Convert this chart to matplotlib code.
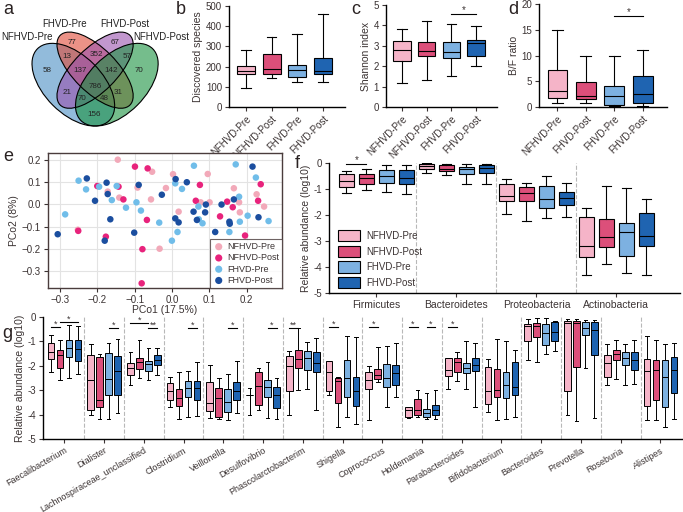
import matplotlib
matplotlib.use('Agg')
import matplotlib.pyplot as plt
from matplotlib.patches import Ellipse, Patch

plt.rcParams['font.family'] = ['Liberation Sans', 'DejaVu Sans']
TXT = '#3b3333'
plt.rcParams['text.color'] = TXT
plt.rcParams['axes.labelcolor'] = TXT
plt.rcParams['xtick.color'] = TXT
plt.rcParams['ytick.color'] = TXT

# ---------------- data ----------------
groups = ['NFHVD-Pre', 'NFHVD-Post', 'FHVD-Pre', 'FHVD-Post']
box_colors = ['#f5b4c8', '#dc4f7a', '#7db1e1', '#1f64b1']
pcoa_colors = ['#f2a9b9', '#e8237c', '#70bde9', '#1b4e9f']

venn_sets = ['NFHVD-Pre', 'FHVD-Pre', 'FHVD-Post', 'NFHVD-Post']
venn_counts = [58, 77, 67, 70, 13, 352, 57, 137, 786, 142, 21, 70, 48, 31, 156]

# five-number summaries: whislo, q1, median, q3, whishi
species_stats = [[95, 165, 180, 205, 280], [145, 165, 190, 262, 345],
                 [125, 150, 185, 210, 362], [125, 165, 180, 242, 460]]
shannon_stats = [[1.2, 2.25, 2.8, 3.25, 3.8], [1.3, 2.5, 2.75, 3.2, 4.2],
                 [1.5, 2.4, 2.7, 3.2, 4.05], [2.0, 2.5, 3.15, 3.3, 3.95]]
bf_stats = [[0.8, 1.8, 3.2, 7.1, 15], [0.7, 1.5, 2.1, 4.9, 9.9],
            [0.2, 0.4, 2.2, 4.0, 9.9], [0.1, 0.8, 2.5, 6.0, 11]]
bf_labels = ['NFHVD-Pre', 'FHVD-Post', 'FHVD-Pre', 'FHVD-Post']

pcoa_nfhvd_pre = [(-0.172, 0.057), (-0.141, 0.03), (-0.092, 0.075), (-0.016, 0.073), (-0.056, 0.022),
                  (-0.252, -0.114), (-0.033, -0.199), (0.018, -0.033), (0.077, 0.009), (0.101, 0.009),
                  (0.166, 0.072), (0.096, 0.136), (0.18, 0.009), (0.182, -0.036), (0.227, 0.045),
                  (0.247, -0.01), (-0.145, 0.2), (-0.053, 0.146), (0.003, 0.135)]
pcoa_nfhvd_post = [(-0.2, 0.082), (-0.143, 0.079), (-0.13, 0.022), (-0.067, -0.07), (-0.251, -0.119),
                   (-0.177, -0.145), (-0.079, -0.201), (-0.081, -0.354), (0.075, 0.087), (0.064, 0.016),
                   (0.129, -0.054), (0.148, 0.012), (0.163, -0.013), (0.196, -0.14), (0.238, 0.09),
                   (0.231, 0.016), (-0.099, 0.169), (-0.065, 0.161)]
pcoa_fhvd_pre = [(-0.25, 0.106), (-0.23, 0.067), (-0.195, 0.079), (-0.148, 0.082), (-0.161, 0.019),
                 (-0.123, -0.015), (-0.095, 0.009), (-0.083, -0.028), (-0.286, -0.045), (-0.034, -0.082),
                 (0.009, 0.094), (0.027, 0.069), (0.0, -0.163), (0.015, -0.124), (0.071, -0.01),
                 (0.082, -0.085), (0.154, -0.124), (0.18, 0.034), (0.182, -0.078), (0.203, -0.051),
                 (0.225, 0.12), (0.259, -0.075), (0.059, 0.173), (0.171, 0.179), (0.072, -0.067)]
pcoa_fhvd_post = [(-0.228, 0.116), (-0.175, 0.097), (-0.172, 0.046), (-0.206, 0.016), (-0.089, 0.087),
                  (-0.027, 0.043), (-0.165, -0.067), (-0.306, -0.134), (-0.18, -0.163), (-0.101, -0.127),
                  (0.01, 0.113), (0.04, 0.099), (0.009, -0.063), (0.018, -0.081), (0.058, -0.033),
                  (0.091, -0.001), (0.089, -0.036), (0.067, -0.07), (0.133, -0.001), (0.166, 0.022),
                  (0.116, -0.124), (0.154, -0.078), (0.155, -0.087), (0.232, -0.058), (0.216, 0.169)]

phyla = ['Firmicutes', 'Bacteroidetes', 'Proteobacteria', 'Actinobacteria']
phylum_stats = [
    [[-1.17, -0.91, -0.68, -0.44, -0.3], [-1.04, -0.79, -0.56, -0.43, -0.24],
     [-1.1, -0.75, -0.51, -0.25, -0.06], [-1.2, -0.82, -0.56, -0.28, -0.06]],
    [[-0.38, -0.24, -0.13, -0.05, 0.0], [-0.47, -0.3, -0.22, -0.09, -0.03],
     [-0.82, -0.44, -0.24, -0.15, -0.03], [-0.82, -0.4, -0.19, -0.09, -0.03]],
    [[-1.95, -1.48, -1.27, -0.82, -0.6], [-2.24, -1.46, -1.14, -0.94, -0.75],
     [-2.11, -1.73, -1.38, -0.89, -0.49], [-2.09, -1.61, -1.35, -1.1, -0.76]],
    [[-4.31, -3.61, -3.2, -2.08, -1.74], [-3.87, -3.23, -2.85, -2.15, -0.9],
     [-4.22, -3.59, -2.66, -2.3, -0.96], [-4.29, -3.19, -2.82, -1.92, -1.38]],
]

genera = ['Faecalibacterium', 'Dialister', 'Lachnospiraceae_unclassified', 'Clostridium',
          'Veillonella', 'Desulfovibrio', 'Phascolarctobacterim', 'Shigella', 'Coprococcus',
          'Holdemania', 'Parabacteroides', 'Bifidobacterium', 'Bacteroides', 'Prevotella',
          'Roseburia', 'Alistipes']
genus_stats = [
    [[-2.27, -1.73, -1.44, -1.07, -0.73], [-2.58, -2.07, -1.55, -1.37, -0.93],
     [-2.51, -1.62, -1.27, -0.93, -0.31], [-2.34, -1.82, -1.3, -0.96, -0.38]],
    [[-4.01, -3.81, -2.6, -1.55, -1.1], [-4.19, -3.67, -3.42, -1.64, -1.51],
     [-4.19, -3.19, -2.55, -1.48, -1.07], [-3.95, -3.19, -2.23, -1.59, -0.9]],
    [[-2.78, -2.37, -2.1, -1.89, -1.45], [-2.51, -2.14, -1.86, -1.68, -0.93],
     [-2.6, -2.23, -1.93, -1.79, -1.27], [-2.37, -1.96, -1.75, -1.55, -1.27]],
    [[-3.67, -3.4, -3.05, -2.71, -2.44], [-4.19, -3.64, -3.33, -2.96, -2.27],
     [-4.11, -3.26, -2.92, -2.64, -2.2], [-4.05, -3.42, -2.89, -2.64, -1.85]],
    [[-4.15, -3.84, -3.51, -2.68, -1.96], [-4.19, -4.11, -3.33, -2.92, -2.48],
     [-4.22, -3.88, -3.47, -2.96, -2.34], [-3.92, -3.4, -3.05, -2.68, -1.82]],
    [[-4.0, -3.2, -3.2, -3.2, -2.92], [-3.81, -3.6, -2.81, -2.27, -2.07],
     [-4.15, -3.26, -2.85, -2.58, -1.86], [-4.19, -3.74, -3.19, -2.88, -2.48]],
    [[-4.01, -3.05, -2.0, -1.59, -1.41], [-2.99, -2.1, -1.73, -1.34, -0.45],
     [-2.96, -2.19, -1.68, -1.41, -1.04], [-3.81, -2.27, -1.89, -1.45, -0.86]],
    [[-3.19, -3.05, -2.27, -1.82, -1.82], [-4.52, -3.51, -2.64, -2.48, -2.44],
     [-4.11, -3.26, -2.51, -1.75, -0.77], [-4.4, -3.64, -3.05, -2.47, -0.82]],
    [[-4.22, -2.96, -2.58, -2.27, -2.0], [-2.68, -2.55, -2.37, -2.14, -1.23],
     [-3.67, -2.88, -2.51, -1.92, -1.18], [-3.29, -2.78, -2.3, -1.96, -1.07]],
    [[-4.15, -4.11, -3.81, -3.67, -3.67], [-4.11, -4.01, -3.81, -3.37, -3.01],
     [-4.19, -4.11, -3.92, -3.78, -3.12], [-4.19, -4.01, -3.81, -3.6, -2.99]],
    [[-2.96, -2.41, -2.16, -1.68, -1.68], [-2.64, -2.27, -1.85, -1.68, -1.45],
     [-2.96, -2.3, -2.1, -1.89, -1.0], [-3.67, -2.23, -1.96, -1.68, -1.07]],
    [[-3.88, -3.56, -3.05, -2.05, -1.73], [-4.22, -3.26, -2.99, -2.14, -0.9],
     [-4.19, -3.33, -2.78, -2.27, -0.97], [-4.11, -3.19, -2.88, -1.86, -1.37]],
    [[-1.78, -0.97, -0.35, -0.28, -0.1], [-1.85, -0.8, -0.38, -0.24, -0.04],
     [-1.52, -1.16, -0.65, -0.28, -0.06], [-1.41, -0.97, -0.61, -0.21, -0.16]],
    [[-4.01, -3.02, -0.25, -0.17, -0.1], [-4.25, -2.05, -0.24, -0.17, -0.1],
     [-2.09, -0.75, -0.45, -0.2, -0.13], [-4.15, -1.54, -0.54, -0.2, -0.13]],
    [[-2.78, -2.46, -1.89, -1.54, -1.09], [-2.54, -1.78, -1.51, -1.37, -0.95],
     [-2.78, -1.95, -1.68, -1.45, -1.12], [-2.74, -2.19, -1.78, -1.45, -0.93]],
    [[-4.22, -3.64, -2.23, -1.72, -0.76], [-4.22, -3.4, -2.19, -1.75, -0.93],
     [-4.49, -3.7, -2.44, -1.78, -1.12], [-4.19, -3.12, -2.16, -1.64, -1.05]],
]
# significance marks: (genus index, box a, box b, y, text)
genus_sig = [(0, 0, 1, -0.42, '*'), (0, 1, 3, -0.2, '*'), (1, 2, 3, -0.45, '*'),
             (2, 0, 2, -0.24, '*'), (2, 2, 3, -0.47, '**'), (3, 2, 3, -0.45, '*'),
             (4, 2, 3, -0.45, '*'), (5, 2, 3, -0.45, '*'), (6, 0, 1, -0.45, '**'),
             (7, 0, 1, -0.42, '*'), (8, 0, 1, -0.42, '*'), (9, 0, 1, -0.42, '*'),
             (9, 2, 3, -0.42, '*'), (10, 0, 1, -0.42, '*')]

# ---------------- helpers ----------------
W, H = 683, 512
fig = plt.figure(figsize=(W / 100, H / 100), dpi=100)


def px_axes(x0, y0, x1, y1):
    return fig.add_axes([x0 / W, 1 - y1 / H, (x1 - x0) / W, (y1 - y0) / H])


def to_stats(rows):
    return [dict(whislo=r[0], q1=r[1], med=r[2], q3=r[3], whishi=r[4]) for r in rows]


def draw_boxes(ax, rows, positions, colors, width, lw=0.8):
    bp = ax.bxp(to_stats(rows), positions=positions, widths=width, patch_artist=True,
                showfliers=False, capwidths=width * 0.55,
                boxprops=dict(linewidth=lw, edgecolor='black'),
                medianprops=dict(color='black', linewidth=lw),
                whiskerprops=dict(color='black', linewidth=lw),
                capprops=dict(color='black', linewidth=lw))
    for p, c in zip(bp['boxes'], colors):
        p.set_facecolor(c)
    return bp


def style_box_axes(ax):
    for s in ['top', 'right']:
        ax.spines[s].set_visible(False)
    for s in ['left', 'bottom']:
        ax.spines[s].set_linewidth(1.0)
        ax.spines[s].set_color('black')
    ax.tick_params(labelsize=7, length=3, width=0.8, pad=2)


def sig(ax, x0, x1, y, text, dy, fs=7):
    ax.plot([x0, x1], [y, y], color='black', lw=0.8, clip_on=False)
    ax.text((x0 + x1) / 2, y + dy, text, ha='center', va='center', fontsize=fs, clip_on=False)


def letter(x, y, t):
    fig.text(x / W, 1 - y / H, t, fontsize=13, va='top', ha='left', color='#2a2222')


# ---------------- a: Venn ----------------
axa = px_axes(0, 10, 175, 135)
axa.set_xlim(0, 175)
axa.set_ylim(135, 10)
axa.axis('off')
s = 145.0
def vp(u, v):
    return 32 + (u - 0.065) * s, 126 - (v - 0.185) * s
venn_geom = [((0.35, 0.47), 0.35, 0.20, 45, '#4a8fc4'),
             ((0.50, 0.57), 0.34, 0.15, 45, '#e04a37'),
             ((0.50, 0.57), 0.34, 0.15, -45, '#9a52ae'),
             ((0.65, 0.47), 0.35, 0.20, -45, '#19923f')]
for (c, a, b, ang, col) in venn_geom:
    cx, cy = vp(*c)
    axa.add_patch(Ellipse((cx, cy), 2 * a * s, 2 * b * s, angle=ang, facecolor=col,
                          alpha=0.6, edgecolor='none'))
for (c, a, b, ang, col) in venn_geom:
    cx, cy = vp(*c)
    axa.add_patch(Ellipse((cx, cy), 2 * a * s, 2 * b * s, angle=ang, facecolor='none',
                          edgecolor='black', linewidth=0.8))
venn_pos = [(47, 70), (72, 42), (115, 42), (139, 70), (67, 56), (96, 54), (127, 56),
            (80, 70), (95, 86), (111, 70), (67, 93), (82, 98), (104, 98), (118, 93), (94, 114)]
for (x, y), n in zip(venn_pos, venn_counts):
    axa.text(x, y, str(n), ha='center', va='center', fontsize=5.8, color='#222222')
set_label_pos = [(27, 37), (65, 24), (125, 24), (161, 37)]
for (x, y), t in zip(set_label_pos, venn_sets):
    axa.text(x, y, t, ha='center', va='center', fontsize=7, color='#222222', clip_on=False)

# ---------------- b, c, d ----------------
pos4 = [1, 2, 3, 4]
axb = px_axes(229, 6, 345, 107)
draw_boxes(axb, species_stats, pos4, box_colors, 0.7)
axb.set_xlim(0.35, 4.85)
axb.set_ylim(0, 500)
axb.set_yticks([0, 100, 200, 300, 400, 500])
axb.set_ylabel('Discovered species', fontsize=7.5, labelpad=2)
axb.set_xticks(pos4)
axb.set_xticklabels(groups, rotation=45, ha='right', rotation_mode='anchor')
style_box_axes(axb)

axc = px_axes(386, 5, 497, 107)
draw_boxes(axc, shannon_stats, pos4, box_colors, 0.7)
axc.set_xlim(0.35, 4.85)
axc.set_ylim(0, 5)
axc.set_yticks([0, 1, 2, 3, 4, 5])
axc.set_ylabel('Shannon index', fontsize=7.5, labelpad=2)
axc.set_xticks(pos4)
axc.set_xticklabels(groups, rotation=45, ha='right', rotation_mode='anchor')
style_box_axes(axc)
sig(axc, 3, 4, 4.55, '*', 0.18)

axd = px_axes(539, 4, 667, 107)
draw_boxes(axd, bf_stats, pos4, box_colors, 0.7)
axd.set_xlim(0.35, 4.85)
axd.set_ylim(0, 20)
axd.set_yticks([0, 5, 10, 15, 20])
axd.set_ylabel('B/F ratio', fontsize=7.5, labelpad=2)
axd.set_xticks(pos4)
axd.set_xticklabels(bf_labels, rotation=45, ha='right', rotation_mode='anchor')
style_box_axes(axd)
sig(axd, 3, 4, 17.7, '*', 0.8)

# ---------------- e: PCoA ----------------
axe = px_axes(48, 153, 282, 288)
for pts, c, lab in zip([pcoa_nfhvd_pre, pcoa_nfhvd_post, pcoa_fhvd_pre, pcoa_fhvd_post],
                       pcoa_colors, groups):
    axe.scatter([p[0] for p in pts], [p[1] for p in pts], s=22, color=c, edgecolors='none',
                label=lab, zorder=3)
axe.set_xlim(-0.332, 0.295)
axe.set_ylim(-0.375, 0.23)
axe.set_xticks([-0.3, -0.2, -0.1, 0.0, 0.1, 0.2])
axe.set_yticks([-0.3, -0.2, -0.1, 0.0, 0.1, 0.2])
axe.grid(True, color='#e3e3e3', lw=0.8)
axe.set_axisbelow(True)
for sp in axe.spines.values():
    sp.set_color('#4a3c3c')
    sp.set_linewidth(1.0)
axe.tick_params(labelsize=7, length=3, width=0.8, pad=2)
axe.set_xlabel('PCo1 (17.5%)', fontsize=7.5, labelpad=0)
axe.set_ylabel('PCo2 (8%)', fontsize=7.5, labelpad=2)
lg = axe.legend(loc='lower right', fontsize=6.5, frameon=True, fancybox=False,
                handletextpad=0.3, borderpad=0.35, labelspacing=0.25, borderaxespad=0.0,
                markerscale=1.1, handlelength=1.2)
lg.get_frame().set_edgecolor('#4a3c3c')
lg.get_frame().set_linewidth(0.8)

# ---------------- f: phyla ----------------
axf = px_axes(329, 163, 680, 293)
for g, rows in enumerate(phylum_stats):
    draw_boxes(axf, rows, [4 * g + i for i in range(4)], box_colors, 0.75)
for xsep in [3.5, 7.5, 11.5]:
    axf.axvline(xsep, color='#b8b8b8', ls='--', lw=0.8, zorder=0)
axf.set_xlim(-0.87, 16.68)
axf.set_ylim(-5, 0)
axf.set_yticks([0, -1, -2, -3, -4, -5])
axf.set_yticklabels(['0', '-1', '-2', '-3', '-4', '-5'])
axf.set_xticks([4 * g + 1.5 for g in range(4)])
axf.set_xticklabels(phyla)
axf.set_ylabel('Relative abundance (log10)', fontsize=7.5, labelpad=2)
style_box_axes(axf)
axf.tick_params(axis='x', labelsize=7.5)
sig(axf, 0, 1, -0.05, '*', 0.15)
handles = [Patch(facecolor=c, edgecolor='black', linewidth=0.8, label=l)
           for c, l in zip(box_colors, groups)]
axf.legend(handles=handles, loc='upper left', bbox_to_anchor=(0.0, 0.55), frameon=False,
           fontsize=7, handlelength=2.3, handleheight=1.4, labelspacing=0.45, handletextpad=0.6)

# ---------------- g: genera ----------------
axg = px_axes(43, 317, 682, 439)
gsp = 4.42
offs = [-1.5, -0.5, 0.5, 1.5]
for g, rows in enumerate(genus_stats):
    draw_boxes(axg, rows, [g * gsp + o for o in offs], box_colors, 0.75, lw=0.7)
for g in range(len(genera) - 1):
    axg.axvline(g * gsp + gsp / 2, color='#b8b8b8', ls='--', lw=0.8, zorder=0)
axg.set_xlim(-2.38, 68.7)
axg.set_ylim(-5, 0)
axg.set_yticks([0, -1, -2, -3, -4, -5])
axg.set_yticklabels(['0', '-1', '-2', '-3', '-4', '-5'])
axg.set_xticks([g * gsp for g in range(len(genera))])
axg.set_xticklabels(genera, rotation=30, ha='right', rotation_mode='anchor')
axg.set_ylabel('Relative abundance (log10)', fontsize=7.5, labelpad=2)
style_box_axes(axg)
axg.tick_params(axis='x', labelsize=6.5)
for (g, a, b, y, t) in genus_sig:
    sig(axg, g * gsp + offs[a], g * gsp + offs[b], y, t, 0.12, fs=6.5)

# ---------------- letters ----------------
letter(3, 1, 'a')
letter(176, 1, 'b')
letter(351, 1, 'c')
letter(508, 1, 'd')
letter(3, 148, 'e')
letter(295, 155, 'f')
letter(2, 325, 'g')

fig.savefig('out.png', dpi=100)
